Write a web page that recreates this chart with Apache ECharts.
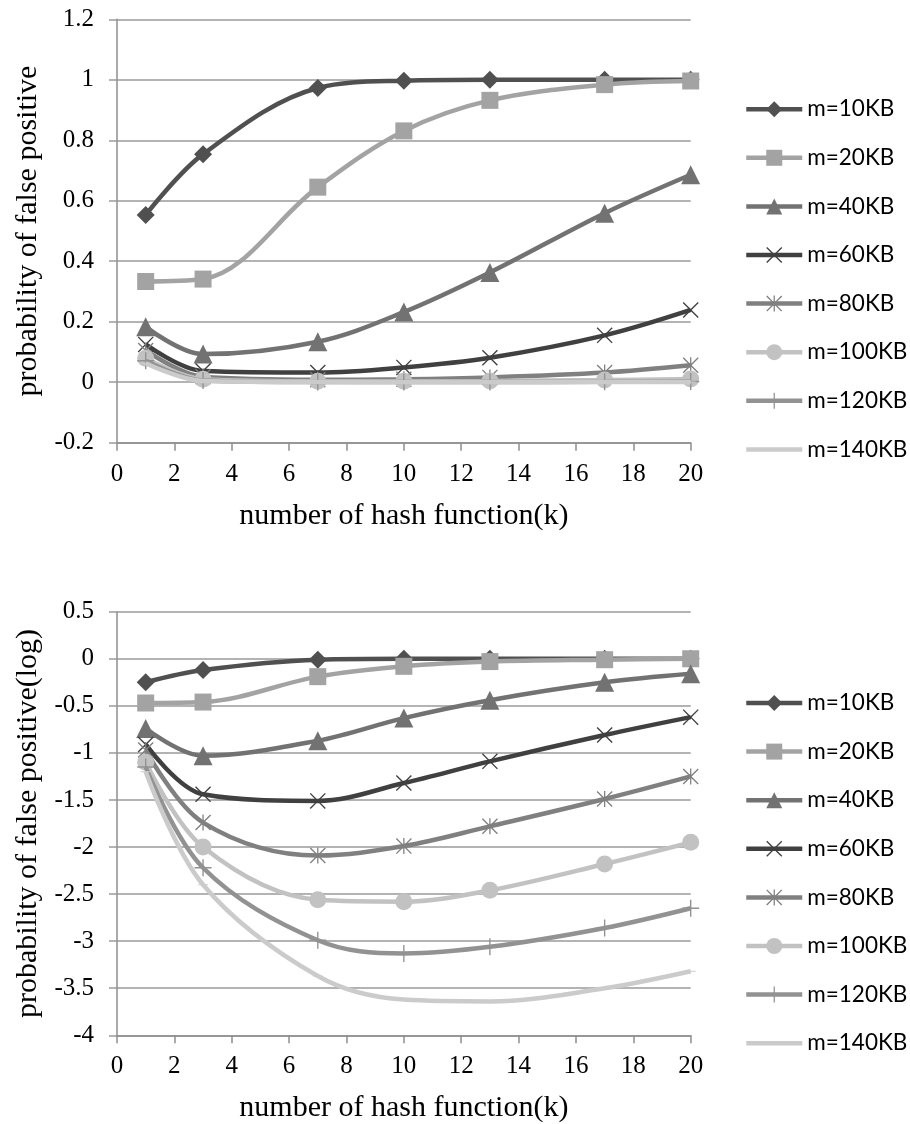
<!DOCTYPE html>
<html>
<head>
<meta charset="utf-8">
<script src="https://cdn.jsdelivr.net/npm/echarts/dist/echarts.min.js"></script>
<style>
  html, body { margin: 0; padding: 0; background: #fff; }
  #chart { width: 910px; height: 1124px; }
</style>
</head>
<body>
<div id="chart"></div>
<script>
  // number of hash functions (k)
  const kValues = [1, 3, 7, 10, 13, 17, 20];
  const seriesNames = ['m=10KB', 'm=20KB', 'm=40KB', 'm=60KB', 'm=80KB', 'm=100KB', 'm=120KB', 'm=140KB'];

  // probability of false positive
  const fp10 = [0.553, 0.754, 0.973, 0.997, 1.0, 1.0, 1.0];
  const fp20 = [0.333, 0.341, 0.645, 0.831, 0.932, 0.984, 0.996];
  const fp40 = [0.183, 0.093, 0.134, 0.232, 0.363, 0.559, 0.686];
  const fp60 = [0.125, 0.037, 0.032, 0.049, 0.081, 0.155, 0.239];
  const fp80 = [0.105, 0.018, 0.008, 0.01, 0.016, 0.032, 0.056];
  const fp100 = [0.079, 0.01, 0.003, 0.003, 0.004, 0.007, 0.011];
  const fp120 = [0.071, 0.006, 0.001, 0.001, 0.001, 0.0014, 0.0022];
  const fp140 = [0.063, 0.004, 0.0004, 0.0002, 0.0002, 0.0003, 0.0005];

  // probability of false positive (log)
  const lg10 = [-0.25, -0.12, -0.01, 0, 0, 0, 0];
  const lg20 = [-0.47, -0.46, -0.19, -0.08, -0.03, -0.01, 0];
  const lg40 = [-0.74, -1.03, -0.87, -0.63, -0.44, -0.25, -0.16];
  const lg60 = [-0.91, -1.44, -1.51, -1.32, -1.09, -0.81, -0.62];
  const lg80 = [-0.97, -1.74, -2.09, -1.99, -1.78, -1.49, -1.25];
  const lg100 = [-1.1, -2.0, -2.56, -2.58, -2.46, -2.18, -1.95];
  const lg120 = [-1.15, -2.22, -2.99, -3.13, -3.06, -2.86, -2.65];
  const lg140 = [-1.2, -2.4, -3.37, -3.62, -3.64, -3.5, -3.32];

  const topValues = [fp10, fp20, fp40, fp60, fp80, fp100, fp120, fp140];
  const logValues = [lg10, lg20, lg40, lg60, lg80, lg100, lg120, lg140];

  // marker shapes
  const xMark = 'path://M0 1.2L1.2 0L10 8.8L18.8 0L20 1.2L11.2 10L20 18.8L18.8 20L10 11.2L1.2 20L0 18.8L8.8 10Z';
  const starMark = xMark + 'M9.2 0H10.8V20H9.2Z';
  const plusMark = 'path://M9.2 0H10.8V20H9.2ZM0 9.2H20V10.8H0Z';
  const dashMark = 'path://M0 9H20V11H0ZM0 0H0.01V0.01H0ZM19.99 19.99H20V20H19.99Z';

  const styles = [
    { color: '#505050', symbol: 'diamond', size: 18 },
    { color: '#a3a3a3', symbol: 'rect', size: 17 },
    { color: '#727272', symbol: 'triangle', size: 19 },
    { color: '#404040', symbol: xMark, size: 16 },
    { color: '#808080', symbol: starMark, size: 16 },
    { color: '#c2c2c2', symbol: 'circle', size: 17 },
    { color: '#929292', symbol: plusMark, size: 17 },
    { color: '#cbcbcb', symbol: dashMark, size: 10 }
  ];

  const serif = 'Liberation Serif';

  function makeSeries(valueSets, axisIndex) {
    return valueSets.map((vals, i) => ({
      name: seriesNames[i],
      type: 'line',
      xAxisIndex: axisIndex,
      yAxisIndex: axisIndex,
      data: kValues.map((k, j) => [k, vals[j]]),
      smooth: 0.35,
      symbol: styles[i].symbol,
      symbolSize: styles[i].size,
      lineStyle: { color: styles[i].color, width: 4.5 },
      itemStyle: { color: styles[i].color, borderWidth: 0 },
      emphasis: { disabled: true },
      z: 2 + i
    }));
  }

  function makeX(index) {
    return {
      type: 'value', gridIndex: index, min: 0, max: 20, interval: 2,
      name: 'number of hash function(k)', nameLocation: 'middle', nameGap: 58,
      nameTextStyle: { fontFamily: serif, fontSize: 30, color: '#000' },
      axisLine: { show: true, onZero: false, lineStyle: { color: '#8e8e8e', width: 1.5 } },
      axisTick: { show: true, length: 8, lineStyle: { color: '#8e8e8e', width: 1.5 } },
      axisLabel: { margin: 19, fontFamily: serif, fontSize: 25, color: '#000' },
      splitLine: { show: false }
    };
  }

  function makeY(index, name, min, max, interval) {
    return {
      type: 'value', gridIndex: index, min: min, max: max, interval: interval,
      name: name, nameLocation: 'middle', nameGap: 72,
      nameTextStyle: { fontFamily: serif, fontSize: 30, color: '#000' },
      axisLine: { show: true, lineStyle: { color: '#8e8e8e', width: 1.5 } },
      axisTick: { show: true, length: 8, lineStyle: { color: '#9a9a9a', width: 1.5 } },
      axisLabel: { margin: 23, fontFamily: serif, fontSize: 25, color: '#000' },
      splitLine: { show: true, lineStyle: { color: '#9a9a9a', width: 1.5 } }
    };
  }

  function makeLegend(top) {
    return {
      data: seriesNames, orient: 'vertical', left: 744, top: top, padding: 0,
      itemWidth: 56, itemHeight: 20, itemGap: 25.6, selectedMode: false,
      lineStyle: { width: 4.5 },
      textStyle: { fontFamily: 'Lato', fontSize: 22.5, color: '#000' }
    };
  }

  const chart = echarts.init(document.getElementById('chart'));
  chart.setOption({
    animation: false,
    backgroundColor: '#fff',
    grid: [
      { left: 117, top: 19.3, width: 573.7, height: 423.4, outerBoundsMode: 'none' },
      { left: 117, top: 611.7, width: 573.7, height: 423.6, outerBoundsMode: 'none' }
    ],
    xAxis: [makeX(0), makeX(1)],
    yAxis: [
      makeY(0, 'probability of false positive', -0.2, 1.2, 0.2),
      makeY(1, 'probability of false positive(log)', -4, 0.5, 0.5)
    ],
    legend: [makeLegend(97.7), makeLegend(691.5)],
    series: makeSeries(topValues, 0).concat(makeSeries(logValues, 1))
  });
</script>
</body>
</html>
